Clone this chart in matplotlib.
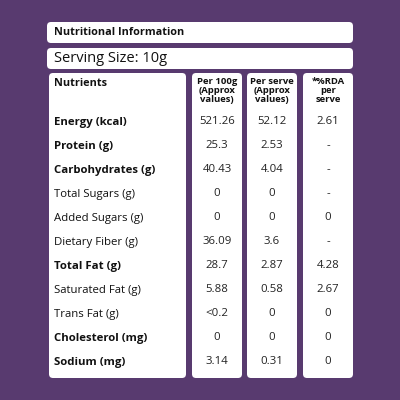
import matplotlib
matplotlib.use("Agg")
import matplotlib.pyplot as plt
from matplotlib.patches import FancyBboxPatch

plt.rcParams['font.family'] = ['Open Sans', 'DejaVu Sans']

nutrients = ["Energy (kcal)", "Protein (g)", "Carbohydrates (g)", "Total Sugars (g)",
             "Added Sugars (g)", "Dietary Fiber (g)", "Total Fat (g)", "Saturated Fat (g)",
             "Trans Fat (g)", "Cholesterol (mg)", "Sodium (mg)"]
bold = [True, True, True, False, False, False, True, False, False, True, True]
per100 = ["521.26", "25.3", "40.43", "0", "0", "36.09", "28.7", "5.88", "<0.2", "0", "3.14"]
perserve = ["52.12", "2.53", "4.04", "0", "0", "3.6", "2.87", "0.58", "0", "0", "0.31"]
rda = ["2.61", "-", "-", "-", "0", "-", "4.28", "2.67", "0", "0", "0"]
headers = ["Per 100g\n(Approx\nvalues)", "Per serve\n(Approx\nvalues)", "*%RDA\nper\nserve"]

bg = "#583a6f"
fig = plt.figure(figsize=(4, 4), dpi=100)
fig.patch.set_facecolor(bg)
ax = fig.add_axes([0, 0, 1, 1])
ax.set_xlim(0, 400); ax.set_ylim(400, 0); ax.axis('off')

def box(x0, y0, x1, y1, r=4):
    ax.add_patch(FancyBboxPatch((x0 + r, y0 + r), x1 - x0 - 2 * r, y1 - y0 - 2 * r,
                                boxstyle=f"round,pad={r}", fc="white", ec="none"))

box(47, 22, 353, 43)
box(47, 48, 353, 69)
cols = [(49, 186), (192, 242), (247, 297), (303, 353)]
for c in cols:
    box(c[0], 73, c[1], 378)

ax.text(54, 32.5, "Nutritional Information", fontsize=7.8, fontweight='bold', va='center', color='#111')
ax.text(54, 58.5, "Serving Size: 10g", fontsize=10.5, va='center', color='#111')
ax.text(54, 84, "Nutrients", fontsize=7.8, fontweight='bold', va='center', color='#111')
for (x0, x1), h in zip(cols[1:], headers):
    ax.text((x0 + x1) / 2, 77, h, fontsize=6.8, fontweight='bold', ha='center', va='top',
            color='#111', linespacing=1.0)

for i, name in enumerate(nutrients):
    y = 122 + 24 * i
    ax.text(54, y, name, fontsize=8.2, fontweight='bold' if bold[i] else 'normal',
            va='center', color='#111')
    for (x0, x1), v in zip(cols[1:], [per100[i], perserve[i], rda[i]]):
        ax.text((x0 + x1) / 2, y, v, fontsize=8.2, ha='center', va='center', color='#222')

fig.savefig("out.png", dpi=100, facecolor=bg)
